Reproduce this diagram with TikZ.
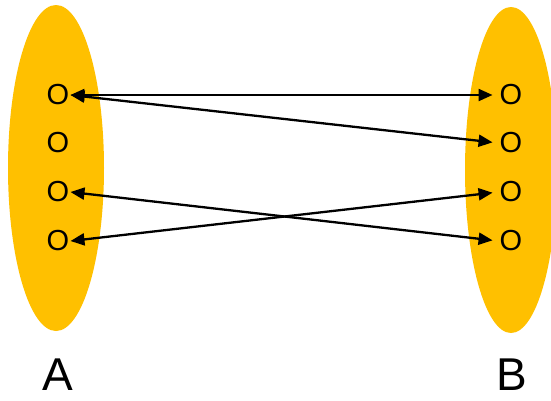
\documentclass[tikz,border=0pt]{standalone}
\usepackage{fontspec}
\setmainfont{Liberation Sans}
\usetikzlibrary{arrows.meta, shapes.geometric}
\definecolor{setgold}{HTML}{FFC000}

\begin{document}
\begin{tikzpicture}[x=1pt, y=-1pt,
    setblob/.style={ellipse, fill=setgold, draw=none,
                    minimum width=96pt, minimum height=326pt},
    elem/.style={inner sep=1pt, font=\fontsize{29}{29}\selectfont},
    setname/.style={font=\fontsize{46}{46}\selectfont},
    arr/.style={{Triangle[length=14pt,width=12pt]}-{Triangle[length=14pt,width=12pt]},
                line width=2.3pt}
  ]
    \useasboundingbox (0,0) rectangle (551,400);

    \node[setblob] (setA) at (56,168)  {};
    \node[setblob, minimum width=92pt] (setB) at (511,170) {};

    \node[elem] (a1) at (58,95)  {O};
    \node[elem] (a2) at (58,143) {O};
    \node[elem] (a3) at (58,192) {O};
    \node[elem] (a4) at (58,241) {O};

    \node[elem] (b1) at (511,95)  {O};
    \node[elem] (b2) at (511,143) {O};
    \node[elem] (b3) at (511,192) {O};
    \node[elem] (b4) at (511,241) {O};

    \node[setname] (labA) at (58,375)  {A};
    \node[setname] (labB) at (512,375) {B};

    \draw[arr, shorten >=6pt] (a1.east) -- (b1.west);
    \draw[arr, shorten >=6pt] (a1.east) -- (b2.west);
    \draw[arr, shorten >=6pt] (a3.east) -- (b4.west);
    \draw[arr, shorten >=6pt] (a4.east) -- (b3.west);
\end{tikzpicture}
\end{document}
